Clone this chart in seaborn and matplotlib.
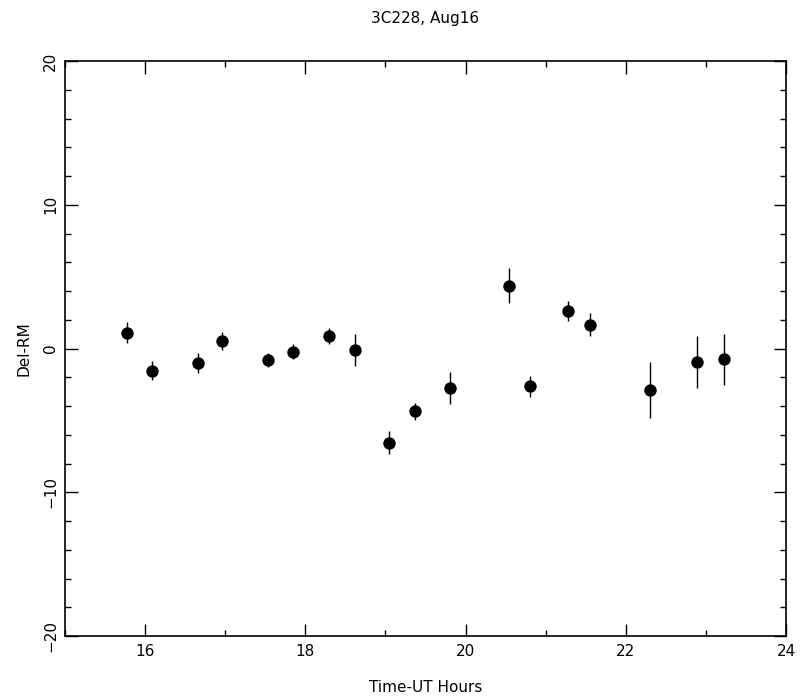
import matplotlib
matplotlib.use("Agg")
import matplotlib.pyplot as plt
from matplotlib.ticker import MultipleLocator
import seaborn as sns
import pandas as pd

# Rotation-measure offsets for 3C228, 16 August
time_ut = [15.77, 16.09, 16.66, 16.96, 17.54, 17.84, 18.30, 18.62, 19.05,
           19.37, 19.80, 20.54, 20.81, 21.28, 21.55, 22.30, 22.89, 23.23]
del_rm = [1.10, -1.54, -0.99, 0.52, -0.82, -0.22, 0.85, -0.10, -6.55,
          -4.37, -2.75, 4.37, -2.63, 2.63, 1.66, -2.86, -0.92, -0.76]
rm_err = [0.72, 0.67, 0.68, 0.60, 0.50, 0.50, 0.55, 1.10, 0.80,
          0.60, 1.10, 1.20, 0.74, 0.70, 0.80, 1.95, 1.80, 1.80]

title = "3C228, Aug16"
x_label = "Time-UT Hours"
y_label = "Del-RM"

df = pd.DataFrame({"t": time_ut, "rm": del_rm, "err": rm_err})

sns.set_theme(style="ticks")
plt.rcParams["font.family"] = ["DejaVu Sans"]
plt.rcParams["text.color"] = "black"
plt.rcParams["axes.labelcolor"] = "black"
plt.rcParams["xtick.color"] = "black"
plt.rcParams["ytick.color"] = "black"

fig = plt.figure(figsize=(8.08, 6.97), dpi=100)
ax = fig.add_axes([65 / 808, 1 - 636 / 697, (786 - 65) / 808, (636 - 61) / 697])

ax.errorbar(df["t"], df["rm"], yerr=df["err"], fmt="none", ecolor="black",
            elinewidth=1.0, capsize=0)
sns.scatterplot(data=df, x="t", y="rm", ax=ax, color="black", s=80,
                edgecolor="black", linewidth=0, zorder=3)

ax.set_xlim(15, 24)
ax.set_ylim(-20, 20)
ax.xaxis.set_major_locator(MultipleLocator(2))
ax.xaxis.set_minor_locator(MultipleLocator(1))
ax.yaxis.set_major_locator(MultipleLocator(10))
ax.yaxis.set_minor_locator(MultipleLocator(2))

ax.tick_params(which="both", direction="in", top=True, right=True,
               colors="black", width=1.0)
ax.tick_params(which="major", length=9)
ax.tick_params(which="minor", length=4)
ax.tick_params(axis="x", which="major", labelsize=11, pad=6)
ax.tick_params(axis="y", which="major", labelsize=11, pad=5)
for lbl in ax.get_yticklabels():
    lbl.set_rotation(90)
    lbl.set_va("center")

for side in ax.spines.values():
    side.set_color("black")
    side.set_linewidth(1.2)

ax.set_xlabel(x_label, fontsize=11, labelpad=15)
ax.set_ylabel(y_label, fontsize=11, labelpad=8)
ax.set_title(title, fontsize=11, pad=27)

fig.savefig("out.png", dpi=100, facecolor="white")
